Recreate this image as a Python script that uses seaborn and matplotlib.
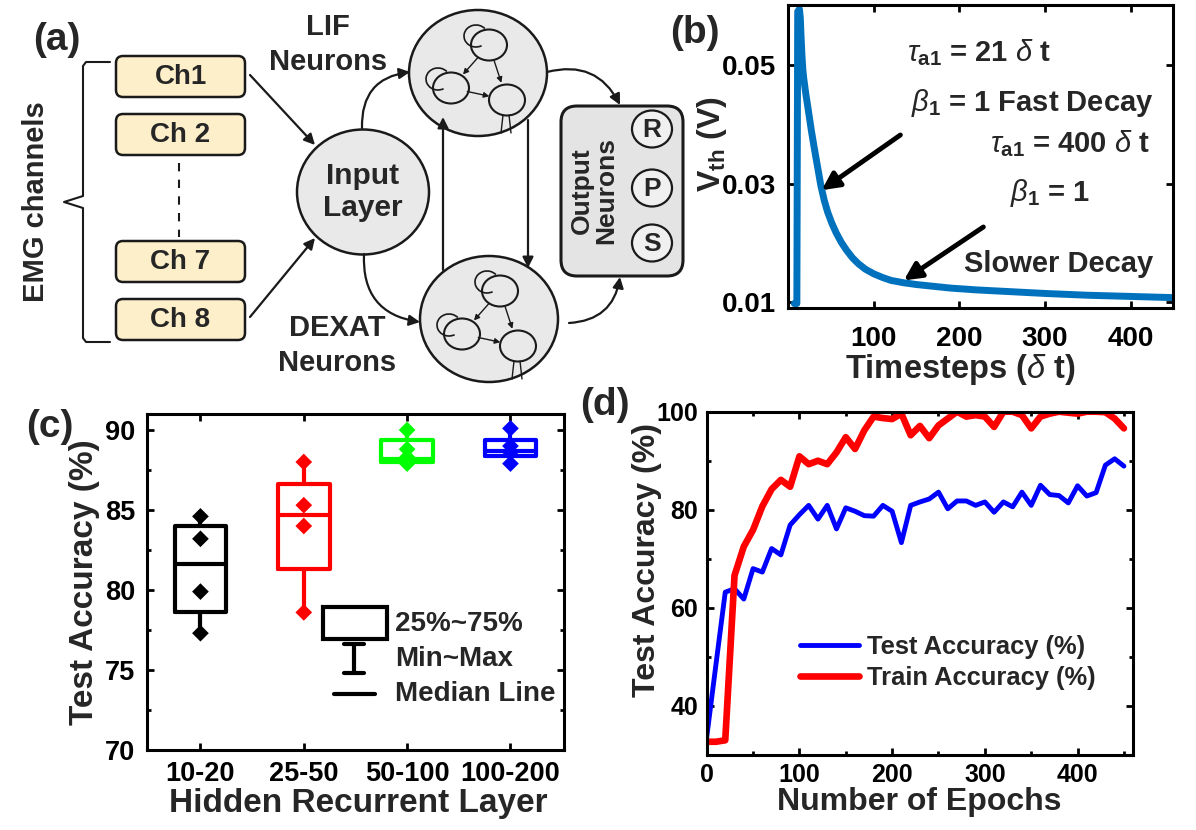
import matplotlib.pyplot as plt
from matplotlib.patches import FancyBboxPatch, Ellipse, Arc, FancyArrowPatch, Rectangle
from matplotlib.lines import Line2D
import seaborn as sns
import pandas as pd
import numpy as np

# (b) adaptive threshold trace
vth_steps = [7, 10, 11, 13, 14, 15, 16, 17, 18, 20, 22, 24, 27, 30, 34, 38, 42, 46, 51,
             56, 62, 68, 75, 82, 90, 100, 110, 120, 135, 150, 170, 190, 220, 260, 300,
             350, 400, 450]
vth_volts = [0.0098, 0.0098, 0.0590, 0.0594, 0.0580, 0.0545, 0.0515, 0.0492, 0.0478,
             0.0456, 0.0437, 0.0418, 0.0389, 0.0363, 0.0330, 0.0297, 0.0272, 0.0252,
             0.0233, 0.0217, 0.0201, 0.0188, 0.0175, 0.0165, 0.0156, 0.0148, 0.0142,
             0.0137, 0.0133, 0.0130, 0.0127, 0.0124, 0.0121, 0.0118, 0.0115, 0.0112,
             0.0110, 0.0108]

# (c) test accuracy per hidden layer size
layer_sizes = ['10-20', '25-50', '50-100', '100-200']
layer_colors = ['#000000', '#ff0000', '#00ff00', '#0000ff']
run_acc = [[84.6, 83.2, 79.9, 77.3],
           [88.0, 85.3, 84.0, 78.6],
           [90.0, 88.8, 88.3, 87.9],
           [90.1, 89.0, 88.6, 87.9]]
box_q1 = [78.65, 81.3, 88.0, 88.4]
box_med = [81.6, 84.7, 88.2, 88.7]
box_q3 = [84.0, 86.6, 89.35, 89.35]
box_min = [77.3, 78.6, 87.9, 87.9]
box_max = [84.6, 88.0, 90.0, 90.1]

# (d) accuracy vs epochs
epochs = list(range(0, 451, 10))
test_acc = [33.6, 48.5, 63.2, 63.9, 61.8, 68.0, 67.3, 72.1, 70.8, 76.9,
            79.0, 80.9, 78.1, 80.9, 76.1, 80.4, 79.7, 78.8, 78.7, 80.9,
            79.7, 73.3, 80.9, 81.6, 82.2, 83.6, 80.2, 81.8, 81.8, 80.9,
            81.6, 79.5, 81.6, 80.6, 83.6, 80.9, 85.0, 83.1, 82.9, 81.4,
            84.9, 82.8, 83.5, 89.1, 90.4, 88.9]
train_acc = [32.7, 32.7, 33.0, 66.6, 72.5, 75.9, 80.7, 84.2, 86.1, 84.7,
             90.9, 89.3, 90.0, 89.3, 91.7, 94.8, 92.4, 96.2, 99.0, 98.7,
             98.5, 99.6, 95.2, 97.1, 94.6, 97.2, 98.6, 100.0, 99.0, 99.3,
             99.0, 96.9, 100.0, 100.0, 99.3, 96.6, 99.0, 99.6, 100.0, 99.8,
             99.6, 100.0, 100.0, 99.9, 98.6, 96.6]

sns.set_style('ticks')
plt.rcParams['font.family'] = ['Liberation Sans', 'DejaVu Sans']
plt.rcParams['font.weight'] = 'bold'
plt.rcParams['axes.labelweight'] = 'bold'
plt.rcParams['mathtext.fontset'] = 'custom'
plt.rcParams['mathtext.rm'] = 'Liberation Sans:weight=bold'
plt.rcParams['mathtext.bf'] = 'Liberation Sans:weight=bold'
plt.rcParams['mathtext.it'] = 'Liberation Sans:style=italic:weight=normal'
plt.rcParams['axes.linewidth'] = 2.2

fig = plt.figure(figsize=(11.96, 8.30), dpi=100)


def style_axis(ax, size, pad):
    for s in ax.spines.values():
        s.set_linewidth(2.2)
        s.set_color('black')
    ax.tick_params(which='both', direction='in', top=True, right=True,
                   width=2, labelsize=size, pad=pad, colors='black')
    ax.tick_params(which='major', length=5)
    ax.tick_params(which='minor', length=3)


# ---------------- (a) network diagram ----------------
axa = fig.add_axes([0, 1 - 400 / 830, 700 / 1196, 400 / 830])
axa.set_xlim(0, 700)
axa.set_ylim(400, 0)
axa.axis('off')
ink = '#1a1a1a'

for lab, top in zip(['Ch1', 'Ch 2', 'Ch 7', 'Ch 8'], [56, 114, 241, 299]):
    axa.add_patch(FancyBboxPatch((116, top), 129, 41, boxstyle='round,pad=0,rounding_size=7',
                                 fc='#fdefc9', ec=ink, lw=1.8))
    axa.text(180.5, top + 21, lab, ha='center', va='center', fontsize=20)
axa.plot([178.5, 178.5], [163, 237], color=ink, lw=1.5, ls=(0, (4, 4)))

# brace
axa.plot([110, 86, 83, 83, 64, 83, 83, 86, 110],
         [62, 62, 66, 196, 202, 208, 338, 342, 342], color=ink, lw=1.5)
axa.text(36, 202, 'EMG channels', rotation=90, ha='center', va='center', fontsize=21)

axa.add_patch(Ellipse((363, 192), 132, 125, fc='#e9e9e9', ec=ink, lw=1.8))
axa.text(363, 192, 'Input\nLayer', ha='center', va='center', fontsize=21.5, linespacing=1.2)


def arrow(p0, p1, rad=0.0, ms=16, lw=1.6):
    axa.add_patch(FancyArrowPatch(p0, p1, connectionstyle=f'arc3,rad={rad}',
                                  arrowstyle='-|>', mutation_scale=ms, lw=lw, color=ink,
                                  shrinkA=0, shrinkB=0))


arrow((250, 75), (315, 145))
arrow((250, 317), (315, 238))


def cluster(cx, cy):
    axa.add_patch(Ellipse((cx, cy), 138, 126, fc='#e9e9e9', ec=ink, lw=1.8))
    pts = [(cx + 11, cy - 28), (cx - 27, cy + 15), (cx + 29, cy + 27)]
    for px, py in pts:
        axa.add_patch(Ellipse((px, py), 36, 31, fc='#e9e9e9', ec=ink, lw=1.5))
    for px, py in pts[:2]:
        axa.add_patch(Arc((px - 13, py - 9), 24, 22, theta1=60, theta2=320, color=ink, lw=1.2))
    a, b, c = pts
    for p, q in [(a, b), (a, c), (b, c)]:
        axa.add_patch(FancyArrowPatch(p, q, arrowstyle='-|>', mutation_scale=8, lw=1.0,
                                      color=ink, shrinkA=12, shrinkB=13))
    axa.plot([c[0] - 4, c[0] - 6], [c[1] + 15, cy + 60], color=ink, lw=1.0)
    axa.plot([c[0] + 2, c[0] + 4], [c[1] + 15, cy + 60], color=ink, lw=1.0)


cluster(478, 73)
cluster(489, 319)
axa.text(328, 27, 'LIF', ha='center', va='center', fontsize=21)
axa.text(328, 62, 'Neurons', ha='center', va='center', fontsize=21)
axa.text(337, 328, 'DEXAT', ha='center', va='center', fontsize=21)
axa.text(337, 363, 'Neurons', ha='center', va='center', fontsize=21)

arrow((362, 128), (410, 72), rad=-0.45)
arrow((364, 254), (420, 322), rad=0.45)
arrow((443, 270), (443, 117))
arrow((528, 120), (528, 268))
arrow((547, 72), (620, 105), rad=-0.4)
arrow((569, 323), (620, 277), rad=0.4)

axa.add_patch(FancyBboxPatch((561, 106), 122, 170, boxstyle='round,pad=0,rounding_size=16',
                             fc='#e4e4e4', ec=ink, lw=2.2))
axa.text(594, 191, 'Output\nNeurons', rotation=90, ha='center', va='center',
         fontsize=19, linespacing=1.0)
for lab, yy in zip(['R', 'P', 'S'], [129, 188, 243]):
    axa.add_patch(Ellipse((652, yy), 40, 37, fc='#f0f0f0', ec=ink, lw=1.6))
    axa.text(652, yy + 1, lab, ha='center', va='center', fontsize=19)

# ---------------- (b) threshold decay ----------------
axb = fig.add_axes([788.3 / 1196, (830 - 308.3) / 830, 385 / 1196, 303.3 / 830])
sns.lineplot(x=vth_steps, y=vth_volts, color='#0072BD', lw=5, ax=axb)
axb.set_xlim(0, 450)
axb.set_ylim(0.009, 0.0601)
axb.set_xticks([100, 200, 300, 400])
axb.set_yticks([0.01, 0.03, 0.05])
axb.set_yticklabels(['0.01', '0.03', '0.05'])
style_axis(axb, 20, 9)
axb.tick_params(axis='x', pad=13)
axb.set_xlabel(r'Timesteps ($\delta$ t)', fontsize=23.5)
axb.set_ylabel(r'V$_{\mathbf{th}}$ (V)', fontsize=23)
axb.xaxis.set_label_coords(0.446, -0.145)
axb.yaxis.set_label_coords(-0.155, 0.54)
fs_b = 21
axb.text(139, 0.0520, r'$\tau_{\mathbf{a1}}$ = 21 $\delta$ t', fontsize=fs_b, va='center')
axb.text(143, 0.0436, r'$\beta_{\mathbf{1}}$ = 1 Fast Decay', fontsize=fs_b, va='center')
axb.text(236, 0.0368, r'$\tau_{\mathbf{a1}}$ = 400 $\delta$ t', fontsize=fs_b, va='center')
axb.text(259, 0.0284, r'$\beta_{\mathbf{1}}$ = 1', fontsize=fs_b, va='center')
axb.text(205, 0.0165, 'Slower Decay', fontsize=fs_b, va='center')
for tail, tip in [((131, 0.0382), (39, 0.0289)), ((228, 0.0227), (135, 0.0137))]:
    axb.annotate('', xy=tip, xytext=tail,
                 arrowprops=dict(arrowstyle='-|>', lw=3.5, color='black', mutation_scale=26,
                                 shrinkA=0, shrinkB=0))

# ---------------- (c) box plot ----------------
axc = fig.add_axes([146.7 / 1196, 80 / 830, 417.5 / 1196, 336 / 830])
df_c = pd.DataFrame({'layer': np.repeat(layer_sizes, 4), 'acc': np.concatenate(run_acc)})
sns.stripplot(data=df_c, x='layer', y='acc', hue='layer', palette=layer_colors, order=layer_sizes,
              marker='D', size=8.5, jitter=False, legend=False, linewidth=0, ax=axc, zorder=4)
for i, col in enumerate(layer_colors):
    st = [dict(med=box_med[i], q1=box_q1[i], q3=box_q3[i], whislo=box_min[i],
               whishi=box_max[i], fliers=[])]
    axc.bxp(st, positions=[i], widths=0.5, showcaps=False, manage_ticks=False,
            boxprops=dict(color=col, lw=3), whiskerprops=dict(color=col, lw=3),
            medianprops=dict(color=col, lw=3))
axc.set_xlim(-0.52, 3.52)
axc.set_ylim(70, 91)
axc.set_yticks([70, 75, 80, 85, 90])
axc.set_yticks(np.arange(72.5, 91, 5), minor=True)
style_axis(axc, 19.5, 8)
axc.set_xlabel('Hidden Recurrent Layer', fontsize=24)
axc.set_ylabel('Test Accuracy (%)', fontsize=24)
axc.xaxis.set_label_coords(0.508, -0.112)
axc.yaxis.set_label_coords(-0.112, 0.5)
# key for the box plot
T = axc.transAxes
axc.add_patch(Rectangle((0.422, 0.329), 0.153, 0.096, transform=T, fill=False, lw=3, ec='k'))
axc.add_line(Line2D([0.497, 0.497], [0.230, 0.315], transform=T, color='k', lw=3))
axc.add_line(Line2D([0.473, 0.521], [0.315, 0.315], transform=T, color='k', lw=3))
axc.add_line(Line2D([0.473, 0.521], [0.230, 0.230], transform=T, color='k', lw=3))
axc.add_line(Line2D([0.449, 0.547], [0.167, 0.167], transform=T, color='k', lw=3))
for txt, yy in zip(['25%~75%', 'Min~Max', 'Median Line'], [0.375, 0.271, 0.167]):
    axc.text(0.595, yy, txt, transform=T, fontsize=20, va='center')

# ---------------- (d) accuracy curves ----------------
axd = fig.add_axes([706.7 / 1196, 75 / 830, 426.5 / 1196, 343.3 / 830])
sns.lineplot(x=epochs, y=test_acc, color='#0000ff', lw=3.5, label='Test Accuracy (%)', ax=axd)
sns.lineplot(x=epochs, y=train_acc, color='#ff0000', lw=4.8, label='Train Accuracy (%)', ax=axd)
axd.set_xlim(0, 460)
axd.set_ylim(30, 100)
axd.set_xticks([0, 100, 200, 300, 400])
axd.set_xticks([50, 150, 250, 350, 450], minor=True)
axd.set_yticks([40, 60, 80, 100])
axd.set_yticks([50, 70, 90], minor=True)
style_axis(axd, 18, 6)
axd.set_xlabel('Number of Epochs', fontsize=23)
axd.set_ylabel('Test Accuracy (%)', fontsize=23)
axd.xaxis.set_label_coords(0.499, -0.093)
axd.yaxis.set_label_coords(-0.105, 0.567)
axd.legend(loc='center left', bbox_to_anchor=(0.219, 0.27), frameon=False, fontsize=18.4,
           handlelength=2.3, handletextpad=0.3, labelspacing=0.25, borderpad=0,
           borderaxespad=0)

# panel letters
for lab, x, y in [('(a)', 57, 40), ('(b)', 695, 33), ('(c)', 50, 427), ('(d)', 605, 405)]:
    fig.text(x / 1196, 1 - y / 830, lab, ha='center', va='center', fontsize=28)

plt.savefig('out.png', dpi=100)
